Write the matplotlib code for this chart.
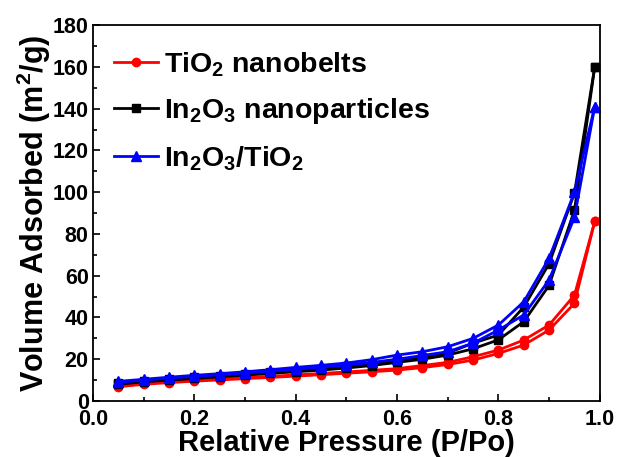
import matplotlib
matplotlib.use("Agg")
import matplotlib.pyplot as plt
from matplotlib.ticker import MultipleLocator

plt.rcParams['font.family'] = ['Liberation Sans', 'DejaVu Sans']
plt.rcParams['font.weight'] = 'bold'
plt.rcParams['mathtext.fontset'] = 'custom'
plt.rcParams['mathtext.rm'] = 'Liberation Sans:bold'
plt.rcParams['mathtext.it'] = 'Liberation Sans:bold'
plt.rcParams['mathtext.bf'] = 'Liberation Sans:bold'

# Relative pressure grid
p = [0.05, 0.10, 0.15, 0.20, 0.25, 0.30, 0.35, 0.40, 0.45, 0.50,
     0.55, 0.60, 0.65, 0.70, 0.75, 0.80, 0.85, 0.90, 0.95, 0.99]

tio2_ads = [6.8, 8.0, 8.8, 9.5, 10.1, 10.7, 11.3, 11.9, 12.6, 13.3,
            14.0, 14.8, 16.0, 17.5, 19.6, 22.8, 26.8, 34.0, 46.8, 86.0]
tio2_des = [7.2, 8.4, 9.2, 9.9, 10.6, 11.2, 11.8, 12.5, 13.2, 13.9,
            14.7, 15.5, 17.0, 18.5, 21.2, 24.4, 29.2, 36.4, 50.7, 86.0]

in2o3_ads = [8.0, 9.2, 10.0, 10.8, 11.6, 12.4, 13.2, 14.0, 14.8, 15.8,
             17.0, 18.5, 20.0, 22.0, 25.0, 29.3, 38.0, 55.4, 91.4, 160.0]
in2o3_des = [8.4, 9.6, 10.5, 11.3, 12.1, 12.9, 13.8, 14.6, 15.5, 16.6,
             17.9, 19.6, 21.0, 23.0, 27.7, 31.6, 45.0, 65.8, 99.6, 160.0]

comp_ads = [9.0, 10.0, 11.0, 11.8, 12.6, 13.4, 14.3, 15.2, 16.2, 17.3,
            18.5, 20.0, 21.8, 23.6, 27.7, 34.0, 41.2, 58.0, 88.0, 141.0]
comp_des = [9.4, 10.4, 11.4, 12.3, 13.1, 14.0, 15.0, 16.1, 17.1, 18.2,
            19.8, 22.0, 23.6, 26.0, 30.0, 36.4, 47.5, 68.4, 100.0, 141.0]

labels = [r'TiO$_2$ nanobelts', r'In$_2$O$_3$ nanoparticles', r'In$_2$O$_3$/TiO$_2$']

fig = plt.figure(figsize=(6.19, 4.57), dpi=100)
ax = fig.add_axes([0.150, 0.1225, 0.819, 0.8225])

series = [
    (tio2_ads, tio2_des, '#ff0000', 'o', 6),
    (in2o3_ads, in2o3_des, '#000000', 's', 5.5),
    (comp_ads, comp_des, '#0000ff', '^', 7),
]
handles = []
for (ads, des, c, m, ms), lab in zip(series, labels):
    h, = ax.plot(p, ads, color=c, marker=m, ms=ms, lw=2.0, label=lab)
    ax.plot(p, des, color=c, marker=m, ms=ms, lw=2.0)
    handles.append(h)

ax.set_xlim(0, 1.0)
ax.set_ylim(0, 180)
ax.xaxis.set_major_locator(MultipleLocator(0.2))
ax.xaxis.set_minor_locator(MultipleLocator(0.1))
ax.yaxis.set_major_locator(MultipleLocator(20))
ax.yaxis.set_minor_locator(MultipleLocator(10))
ax.tick_params(which='both', direction='in', top=False, right=False, labelsize=15.5)
ax.tick_params(which='major', length=5, width=1.2)
ax.tick_params(which='minor', length=3, width=1.2)
ax.xaxis.set_tick_params(pad=6)
ax.yaxis.set_tick_params(pad=3)
for lab in ax.get_xticklabels() + ax.get_yticklabels():
    lab.set_fontweight('bold')
for s in ax.spines.values():
    s.set_linewidth(1.3)

ax.set_xlabel('Relative Pressure (P/Po)', fontsize=21, fontweight='bold', labelpad=-1)
ax.set_ylabel(r'Volume Adsorbed (m$^2$/g)', fontsize=22, fontweight='bold', labelpad=0)

leg = ax.legend(handles=handles, loc='upper left', frameon=False,
                prop={'size': 20.5, 'weight': 'bold'}, handlelength=1.55,
                labelspacing=0.62, handletextpad=0.2, borderaxespad=0.55,
                bbox_to_anchor=(-0.012, 1.005))

fig.savefig('out.png', dpi=100)
